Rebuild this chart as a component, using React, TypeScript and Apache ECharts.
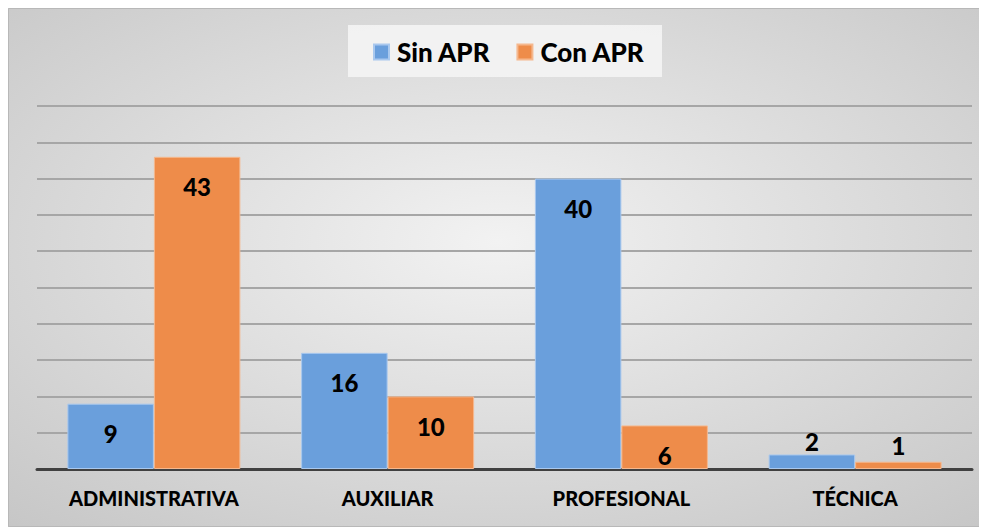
import React, { useEffect, useRef } from "react";
import * as echarts from "echarts";

const categories = ["ADMINISTRATIVA", "AUXILIAR", "PROFESIONAL", "TÉCNICA"];
const sinAPR = [9, 16, 40, 2];
const conAPR = [43, 10, 6, 1];
const seriesNames = ["Sin APR", "Con APR"];

const FONT = "Lato, 'Open Sans', sans-serif";

function labelFor(values: number[]) {
  return values.map((v) => ({
    value: v,
    label: v < 5 ? { position: "top", distance: v < 2 ? 4 : 1 } : {},
  }));
}

export default function App() {
  const ref = useRef<HTMLDivElement>(null);
  useEffect(() => {
    const chart = echarts.init(ref.current!, null, { renderer: "svg" });
    const baseLabel = {
      show: true,
      position: "insideTop",
      distance: 18,
      color: "#000",
      fontFamily: FONT,
      fontWeight: 900,
      fontSize: 24,
    };
    chart.setOption({
      animation: false,
      backgroundColor: new echarts.graphic.RadialGradient(0.5, 0.45, 0.75, [
        { offset: 0, color: "#f2f2f2" },
        { offset: 1, color: "#c6c6c6" },
      ]),
      graphic: [
        {
          type: "rect",
          shape: { x: 0.5, y: 0.5, width: 978, height: 518 },
          style: { fill: "none", stroke: "#b8b8b8", lineWidth: 1 },
          silent: true,
        },
        {
          type: "rect",
          shape: { x: 340, y: 17, width: 314, height: 52 },
          style: { fill: "rgba(246,246,246,0.85)" },
          silent: true,
          z: -1,
        },
      ],
      legend: {
        data: seriesNames,
        top: 26,
        left: 360,
        itemWidth: 15,
        itemHeight: 15,
        itemGap: 26,
        icon: "rect",
        textStyle: {
          fontFamily: FONT,
          fontWeight: 900,
          fontSize: 26,
          color: "#000",
          padding: [0, 0, 0, 3],
        },
      },
      grid: { left: 29, right: 15, top: 98, bottom: 58, containLabel: false },
      xAxis: {
        type: "category",
        data: categories,
        axisTick: { show: false },
        axisLine: { lineStyle: { color: "#404040", width: 3 } },
        axisLabel: {
          margin: 19,
          color: "#000",
          fontFamily: FONT,
          fontWeight: 900,
          fontSize: 20,
        },
      },
      yAxis: {
        type: "value",
        min: 0,
        max: 50,
        interval: 5,
        axisLabel: { show: false },
        axisLine: { show: false },
        axisTick: { show: false },
        splitLine: { lineStyle: { color: "#a6a6a6", width: 2 } },
      },
      series: [
        {
          name: seriesNames[0],
          type: "bar",
          data: labelFor(sinAPR),
          barWidth: "37%",
          barGap: "0%",
          itemStyle: {
            color: "#6a9fdc",
            borderColor: "#a9c8ee",
            borderWidth: 1,
          },
          label: baseLabel,
        },
        {
          name: seriesNames[1],
          type: "bar",
          data: labelFor(conAPR),
          barWidth: "37%",
          barGap: "0%",
          itemStyle: {
            color: "#ee8c4a",
            borderColor: "#f5b88e",
            borderWidth: 1,
          },
          label: baseLabel,
        },
      ],
    });
    return () => chart.dispose();
  }, []);
  return <div ref={ref} style={{ width: 979, height: 519 }} />;
}
